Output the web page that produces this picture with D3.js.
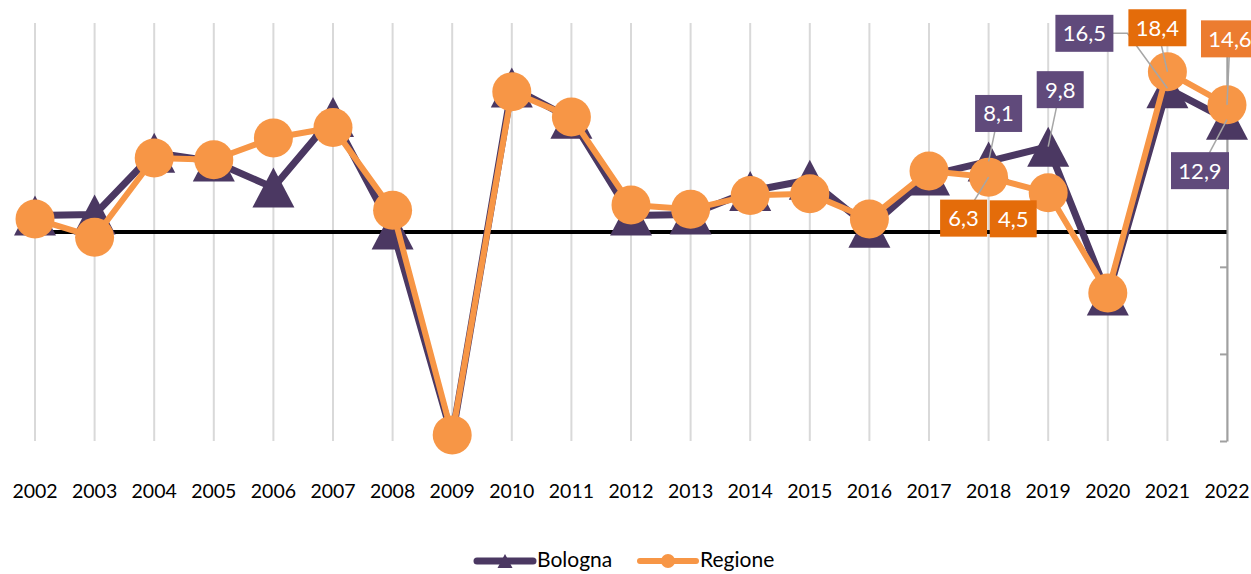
<!DOCTYPE html>
<html>
<head>
<meta charset="utf-8">
<script src="https://cdn.jsdelivr.net/npm/d3@7"></script>
<style>
  body { margin: 0; background: #fff; }
  svg { display: block; font-family: Lato, "Open Sans", sans-serif; }
</style>
</head>
<body>
<div id="chart"></div>
<script>
// data
const years = [2002, 2003, 2004, 2005, 2006, 2007, 2008, 2009, 2010, 2011, 2012,
               2013, 2014, 2015, 2016, 2017, 2018, 2019, 2020, 2021, 2022];
const bologna = [1.9, 2.0, 9.1, 8.1, 5.1, 13.2, 0.3, -23.5, 16.6, 13.0, 1.9,
                 2.0, 4.7, 6.0, 0.5, 6.5, 8.1, 9.8, -7.3, 16.5, 12.9];
const regione = [1.5, -0.6, 8.5, 8.3, 10.8, 12.0, 2.5, -23.3, 16.1, 13.2, 3.1,
                 2.6, 4.2, 4.4, 1.5, 7.0, 6.3, 4.5, -7.0, 18.4, 14.6];
const axisTicks = [-24, -14, -4, 6, 16];
const seriesNames = ["Bologna", "Regione"];

// labelled points (series index, year)
const labelSeries = [0, 0, 0, 0, 1, 1, 1, 1];
const labelYears  = [2018, 2019, 2021, 2022, 2018, 2019, 2021, 2022];

// label box placement relative to the point
const labelLayout = [
  { dx: 10,  dy: -48, leader: true },
  { dx: 12,  dy: -57, leader: true },
  { dx: -83, dy: -55, leader: true, elbow: true },
  { dx: -27, dy: 51,  leader: true },
  { dx: -25, dy: 41,  leader: true },
  { dx: -35, dy: 26,  leader: false },
  { dx: -10, dy: -44, leader: true },
  { dx: 3,   dy: -66, leader: true }
];

const W = 1251, H = 574;
const purple = "#4b3862", orange = "#f79646";
const boxPurple = "#604a7b", boxOrange = "#e46c0a";

const svg = d3.select("#chart").append("svg")
    .attr("width", W)
    .attr("height", H);

const x = d3.scalePoint().domain(years).range([35, 1227]);
const y = d3.scaleLinear().domain([-24, 24]).range([441, 23]);

// triangles get cut at the bottom of the plot area
svg.append("clipPath").attr("id", "plotclip")
  .append("rect")
    .attr("x", 0).attr("y", 0)
    .attr("width", W).attr("height", y(-24));

// vertical gridlines
svg.append("g")
    .selectAll("line")
    .data(years)
    .join("line")
    .attr("x1", d => x(d)).attr("x2", d => x(d))
    .attr("y1", y(24)).attr("y2", y(-24))
    .attr("stroke", "#d9d9d9")
    .attr("stroke-width", 2);

// zero line
svg.append("line")
    .attr("x1", x(years[0])).attr("x2", x(years[years.length - 1]))
    .attr("y1", y(0)).attr("y2", y(0))
    .attr("stroke", "#000")
    .attr("stroke-width", 4);

// value axis on the right, labels hidden
const yAxis = svg.append("g")
    .attr("transform", `translate(${x(2022)},0)`)
    .call(d3.axisLeft(y).tickValues(axisTicks).tickSize(7).tickSizeOuter(0).tickFormat(""));
yAxis.select(".domain").attr("stroke", "#a0a0a0").attr("stroke-width", 2);
yAxis.selectAll(".tick line").attr("stroke", "#a0a0a0").attr("stroke-width", 2);

// year labels
svg.append("g")
    .selectAll("text")
    .data(years)
    .join("text")
    .attr("x", d => x(d))
    .attr("y", 498)
    .attr("text-anchor", "middle")
    .style("font-size", "19.5px")
    .style("fill", "#000")
    .text(d => d);

function triPath(w, h) {
  return `M0,${-h / 2}L${w / 2},${h / 2}L${-w / 2},${h / 2}Z`;
}

const line = d3.line().x((d, i) => x(years[i])).y(d => y(d));

// Bologna
svg.append("path")
    .datum(bologna)
    .attr("d", line)
    .attr("fill", "none")
    .attr("stroke", purple)
    .attr("stroke-width", 7)
    .attr("stroke-linejoin", "round");

svg.append("g")
    .attr("clip-path", "url(#plotclip)")
    .selectAll("path")
    .data(bologna)
    .join("path")
    .attr("transform", (d, i) => `translate(${x(years[i])},${y(d)})`)
    .attr("d", triPath(42, 40))
    .attr("fill", purple);

// Regione
svg.append("path")
    .datum(regione)
    .attr("d", line)
    .attr("fill", "none")
    .attr("stroke", orange)
    .attr("stroke-width", 6)
    .attr("stroke-linejoin", "round");

svg.append("g")
    .selectAll("circle")
    .data(regione)
    .join("circle")
    .attr("cx", (d, i) => x(years[i]))
    .attr("cy", d => y(d))
    .attr("r", 19.5)
    .attr("fill", orange);

// data labels
const labels = labelSeries.map((s, i) => {
  const vals = s === 0 ? bologna : regione;
  const v = vals[years.indexOf(labelYears[i])];
  const px = x(labelYears[i]), py = y(v);
  const text = d3.format(".1f")(v).replace(".", ",");
  const w = text.length > 3 ? 58 : 47;
  return { s, v, px, py, text, w, cx: px + labelLayout[i].dx, cy: py + labelLayout[i].dy, ...labelLayout[i] };
});

// leader lines
svg.append("g")
    .selectAll("polyline")
    .data(labels.filter(d => d.leader))
    .join("polyline")
    .attr("points", d => d.elbow
        ? `${d.px},${d.py} ${d.cx + d.w / 2 + 14},${d.cy} ${d.cx},${d.cy}`
        : `${d.px},${d.py} ${d.cx},${d.cy}`)
    .attr("fill", "none")
    .attr("stroke", "#a6a6a6")
    .attr("stroke-width", 1.5);

const lbl = svg.append("g")
    .selectAll("g")
    .data(labels)
    .join("g")
    .attr("transform", d => `translate(${d.cx},${d.cy})`);

lbl.append("rect")
    .attr("x", d => -d.w / 2)
    .attr("y", -18.5)
    .attr("width", d => d.w)
    .attr("height", 37)
    .attr("fill", d => d.s === 0 ? boxPurple : (d.px === x(2022) ? "#ec7c30" : boxOrange));

lbl.append("text")
    .attr("text-anchor", "middle")
    .attr("dy", "0.36em")
    .style("font-size", "22px")
    .style("fill", "#fff")
    .text(d => d.text);

// legend
const legend = svg.append("g").attr("transform", "translate(0,561)");
const legendX = [477, 640];
seriesNames.forEach((name, i) => {
  const g = legend.append("g").attr("transform", `translate(${legendX[i]},0)`);
  g.append("line")
      .attr("x1", 0).attr("x2", 56)
      .attr("stroke", i === 0 ? purple : orange)
      .attr("stroke-width", i === 0 ? 7 : 6)
      .attr("stroke-linecap", "round");
  if (i === 0) {
    g.append("path")
        .attr("transform", "translate(28,0)")
        .attr("d", triPath(15, 14))
        .attr("fill", purple);
  } else {
    g.append("circle").attr("cx", 28).attr("r", 7).attr("fill", orange);
  }
  g.append("text")
      .attr("x", 60)
      .attr("dy", "0.3em")
      .style("font-size", "21px")
      .style("fill", "#000")
      .text(name);
});
</script>
</body>
</html>
